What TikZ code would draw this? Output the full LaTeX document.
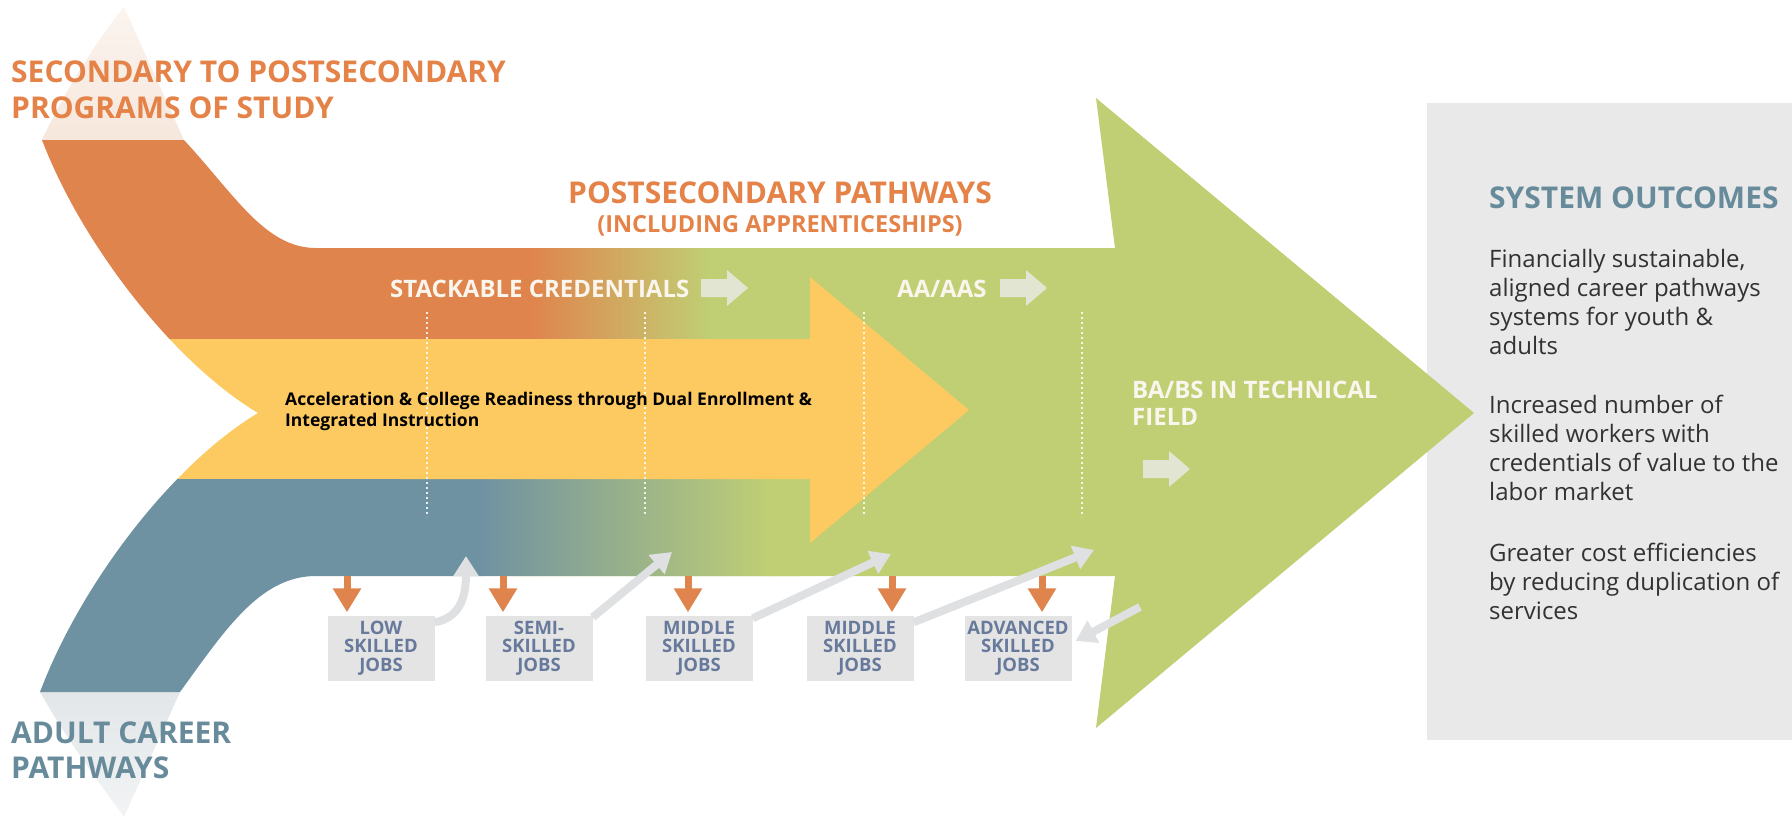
\documentclass[tikz,border=0pt]{standalone}
\usepackage{fontspec}
\setmainfont{Open Sans}
\usetikzlibrary{arrows.meta}
\definecolor{orng}{RGB}{224,132,77}
\definecolor{orngtxt}{RGB}{228,130,72}
\definecolor{yel}{RGB}{253,201,97}
\definecolor{blu}{RGB}{111,146,162}
\definecolor{grn}{RGB}{192,207,116}
\definecolor{tealtxt}{RGB}{103,139,155}
\definecolor{boxgray}{RGB}{233,233,233}
\definecolor{jobgray}{RGB}{228,228,228}
\definecolor{jobtxt}{RGB}{104,122,156}
\definecolor{arrgray}{RGB}{222,224,226}
\definecolor{pale}{RGB}{226,229,210}
\definecolor{offwhite}{RGB}{250,246,238}
\definecolor{bodytxt}{RGB}{50,50,50}
\definecolor{tailgray}{RGB}{226,230,232}
\definecolor{tailpeach}{RGB}{246,231,220}
\begin{document}
\begin{tikzpicture}[x=1pt,y=-1pt,
  bigtitle/.style={font=\bfseries\fontsize{30}{30}\selectfont, inner sep=0pt, anchor=base west},
  subtitle/.style={font=\bfseries\fontsize{23.5}{23.5}\selectfont, inner sep=0pt, text=orngtxt, anchor=base},
  bandlabel/.style={font=\bfseries\fontsize{24}{24}\selectfont, inner sep=0pt, text=offwhite, anchor=base west},
  accel/.style={font=\bfseries\fontsize{17.5}{17.5}\selectfont, inner sep=0pt, text=black, anchor=base west},
  bodyline/.style={font=\fontsize{24}{24}\selectfont, inner sep=0pt, text=bodytxt, anchor=base west},
  jobbox/.style={fill=jobgray, minimum width=107pt, minimum height=65pt, inner sep=0pt, align=center,
    font=\bfseries\fontsize{18.5}{18.5}\selectfont, text=jobtxt},
  oarr/.style={draw=orng, line width=7pt, -{Triangle[width=27pt,length=24pt]}, shorten >=3pt},
  garr/.style={draw=arrgray, line width=8pt, -{Triangle[width=24pt,length=20pt]}},
  dotline/.style={draw=white, line width=2pt, dash pattern=on 2pt off 3pt, opacity=.85},
  blockarr/.pic={\fill[pale] (0,-9) -- (26,-9) -- (26,-18) -- (47,0) -- (26,18) -- (26,9) -- (0,9) -- cycle;}
]
\useasboundingbox (0,0) rectangle (1792,819);

% outcome panel (behind the arrow tip)
\fill[boxgray] (1427,103) rectangle (1792,740);

% faded tails
\shade[top color=tailpeach!45, bottom color=tailpeach] (42,140) .. controls (70,80) and (105,30) .. (124,7) -- (184,140) -- cycle;
\shade[top color=tailgray, bottom color=tailgray!45] (40,692) .. controls (70,745) and (105,790) .. (124,817) -- (180,692) -- cycle;

% green arrow
\fill[grn] (500,248) -- (1115,248) -- (1096,98) -- (1474,413) -- (1096,728) -- (1115,576) -- (500,576) -- cycle;

% converging bands
\begin{scope}
\clip (42,140) .. controls (80,240) and (170,360) .. (258,413)
  .. controls (170,466) and (80,586) .. (40,692)
  -- (180,692) .. controls (225,630) and (260,576) .. (316,576)
  -- (800,576) -- (800,248) -- (316,248)
  .. controls (265,248) and (235,195) .. (184,140) -- cycle;
\fill[orng] (0,100) rectangle (531,340);
\shade[left color=orng, right color=grn] (530,100) rectangle (711,340);
\fill[grn] (710,100) rectangle (801,340);
\fill[blu] (0,478) rectangle (481,700);
\shade[left color=blu, middle color=blu!55!grn, right color=grn] (480,478) rectangle (771,700);
\fill[grn] (770,478) rectangle (801,700);
\fill[yel] (0,339) rectangle (420,479);
\end{scope}

% yellow arrow
\fill[yel] (400,339) -- (810,339) -- (810,277) -- (969,410) -- (810,543) -- (810,479) -- (400,479) -- cycle;

% dotted dividers
\foreach \x in {427,645,864,1082} \draw[dotline] (\x,312) -- (\x,517);

% titles
\node[bigtitle, text=orngtxt] (sec1) at (11,82) {SECONDARY TO POSTSECONDARY};
\node[bigtitle, text=orngtxt] (sec2) at (11,118) {PROGRAMS OF STUDY};
\node[bigtitle, text=orngtxt, anchor=base] (post1) at (780,203) {POSTSECONDARY PATHWAYS};
\node[subtitle] (post2) at (780,232) {(INCLUDING APPRENTICESHIPS)};
\node[bigtitle, text=tealtxt] (adult1) at (11,743) {ADULT CAREER};
\node[bigtitle, text=tealtxt] (adult2) at (11,778) {PATHWAYS};

% band labels
\node[bandlabel] (stack) at (390,297) {STACKABLE CREDENTIALS};
\pic at (701,288) {blockarr};
\node[bandlabel] (aa) at (897,297) {AA/AAS};
\pic at (1000,288) {blockarr};
\node[bandlabel] (ba1) at (1132,398) {BA/BS IN TECHNICAL};
\node[bandlabel] (ba2) at (1132,425) {FIELD};
\pic at (1143,469) {blockarr};
\node[accel] (acc1) at (285,405) {Acceleration \& College Readiness through Dual Enrollment \&};
\node[accel] (acc2) at (285,426) {Integrated Instruction};

% outcomes text
\node[bigtitle, text=tealtxt] (outt) at (1489,208) {SYSTEM OUTCOMES};
\node[bodyline] (o11) at (1489,267) {Financially sustainable,};
\node[bodyline] (o12) at (1489,296) {aligned career pathways};
\node[bodyline] (o13) at (1489,325) {systems for youth \&};
\node[bodyline] (o14) at (1489,354) {adults};
\node[bodyline] (o21) at (1489,413) {Increased number of};
\node[bodyline] (o22) at (1489,442) {skilled workers with};
\node[bodyline] (o23) at (1489,471) {credentials of value to the};
\node[bodyline] (o24) at (1489,500) {labor market};
\node[bodyline] (o31) at (1489,561) {Greater cost efficiencies};
\node[bodyline] (o32) at (1489,590) {by reducing duplication of};
\node[bodyline] (o33) at (1489,619) {services};

% job boxes
\node[jobbox] (low) at (381,648) {LOW\\SKILLED\\JOBS};
\node[jobbox] (semi) at (539,648) {SEMI-\\SKILLED\\JOBS};
\node[jobbox] (mid1) at (699,648) {MIDDLE\\SKILLED\\JOBS};
\node[jobbox] (mid2) at (860,648) {MIDDLE\\SKILLED\\JOBS};
\node[jobbox] (adv) at (1018,648) {ADVANCED\\SKILLED\\JOBS};

% exits to jobs
\coordinate (b1) at (347,576);
\coordinate (b2) at (503,576);
\coordinate (b3) at (688,576);
\coordinate (b4) at (892,576);
\coordinate (b5) at (1042,576);
\draw[oarr] (b1) -- (b1 |- low.north);
\draw[oarr] (b2) -- (b2 |- semi.north);
\draw[oarr] (b3) -- (b3 |- mid1.north);
\draw[oarr] (b4) -- (b4 |- mid2.north);
\draw[oarr] (b5) -- (b5 |- adv.north);

% re-entry arrows
\coordinate (g1) at (466,556);
\coordinate (g2) at (672,552);
\coordinate (g3) at (891,554);
\coordinate (g4) at (1094,550);
\coordinate (g5) at (1140,607);
\draw[garr] ([yshift=-7pt]low.north east) .. controls (458,618) and (466,600) .. (g1);
\draw[garr] ([yshift=-2pt]semi.north east) -- (g2);
\draw[garr] ([yshift=-3pt]mid1.north east) -- (g3);
\draw[garr] ([yshift=-7pt]mid2.north east) -- (g4);
\draw[garr] (g5) -- ([yshift=7pt,xshift=4pt]adv.east);
\end{tikzpicture}
\end{document}
